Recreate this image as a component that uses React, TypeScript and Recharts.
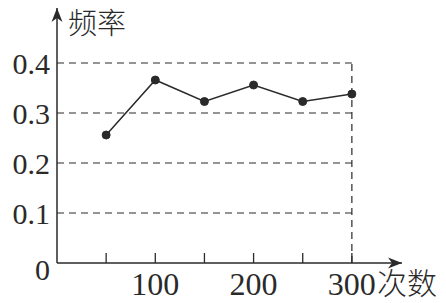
import React from 'react';
import { LineChart, Line, XAxis, YAxis, ReferenceLine, ReferenceDot } from 'recharts';

const counts = [50, 100, 150, 200, 250, 300];
const freqs = [0.256, 0.366, 0.323, 0.356, 0.323, 0.338];
const yTicks = [0, 0.1, 0.2, 0.3, 0.4];
const gridLevels = [0.1, 0.2, 0.3, 0.4];
const xLabels = [100, 200, 300];

const data = counts.map((c, i) => ({ n: c, f: freqs[i] }));

const ink = '#2a2a2a';
const serif = '"Liberation Serif", "DejaVu Serif", serif';
const cjk = '"Noto Sans CJK SC", sans-serif';

const XTick = (props: any) => {
  const { x, y, payload } = props;
  const axisY = y - 9;
  return (
    <g>
      <line x1={x} x2={x} y1={axisY} y2={axisY - 10} stroke={ink} strokeWidth={1.3} />
      {xLabels.includes(payload.value) && (
        <text x={x} y={y} dy="0.71em" textAnchor="middle" fontFamily={serif} fontSize={32} fill={ink}>
          {payload.value}
        </text>
      )}
    </g>
  );
};

const YTick = (props: any) => {
  const { x, y, payload } = props;
  // the zero label sits a little below the axis in the original
  const shift = payload.value === 0 ? 6 : 0;
  return (
    <text x={x} y={y + shift} dy="0.35em" textAnchor="end" fontFamily={serif} fontSize={30} fill={ink}>
      {String(payload.value)}
    </text>
  );
};

const ArrowRight = (props: any) => {
  const { cx, cy } = props;
  return <path d={`M${cx},${cy} L${cx - 14},${cy - 5.5} L${cx - 10},${cy} L${cx - 14},${cy + 5.5} Z`} fill={ink} />;
};

const ArrowUp = (props: any) => {
  const { cx, cy } = props;
  return <path d={`M${cx},${cy} L${cx - 5.5},${cy + 14} L${cx},${cy + 10} L${cx + 5.5},${cy + 14} Z`} fill={ink} />;
};

export default function App() {
  return (
    <div style={{ position: 'absolute', left: 0, top: 0, width: 446, height: 303, background: '#fff' }}>
      <LineChart width={446} height={303} data={data} margin={{ top: 8, right: 44, bottom: 0, left: 0 }}>
        <XAxis
          dataKey="n"
          type="number"
          domain={[0, 351]}
          ticks={counts}
          allowDataOverflow
          height={40}
          tickLine={false}
          tickSize={0}
          tickMargin={9}
          tick={<XTick />}
          axisLine={{ stroke: ink, strokeWidth: 1.5 }}
        />
        <YAxis
          type="number"
          domain={[0, 0.51]}
          ticks={yTicks}
          allowDataOverflow
          width={57}
          tickLine={false}
          tickSize={0}
          tickMargin={7}
          axisLine={{ stroke: ink, strokeWidth: 1.5 }}
          tick={<YTick />}
        />
        {gridLevels.map((v) => (
          <ReferenceLine
            key={v}
            segment={[{ x: 0, y: v }, { x: 300, y: v }]}
            stroke={ink}
            strokeWidth={1.2}
            strokeDasharray="7 5"
          />
        ))}
        <ReferenceLine
          segment={[{ x: 300, y: 0 }, { x: 300, y: 0.4 }]}
          stroke={ink}
          strokeWidth={1.2}
          strokeDasharray="7 5"
        />
        <ReferenceDot x={351} y={0} ifOverflow="visible" shape={<ArrowRight />} />
        <ReferenceDot x={0} y={0.51} ifOverflow="visible" shape={<ArrowUp />} />
        <Line
          dataKey="f"
          type="linear"
          stroke={ink}
          strokeWidth={1.5}
          dot={{ r: 4, fill: ink, stroke: ink, strokeWidth: 1 }}
          isAnimationActive={false}
        />
      </LineChart>
      <svg width={446} height={303} style={{ position: 'absolute', left: 0, top: 0, pointerEvents: 'none' }}>
        <text x={68} y={34} fontFamily={cjk} fontWeight={300} fontSize={29} fill={ink}>频率</text>
        <text x={377} y={294} fontFamily={cjk} fontWeight={300} fontSize={30} fill={ink}>次数</text>
      </svg>
    </div>
  );
}
